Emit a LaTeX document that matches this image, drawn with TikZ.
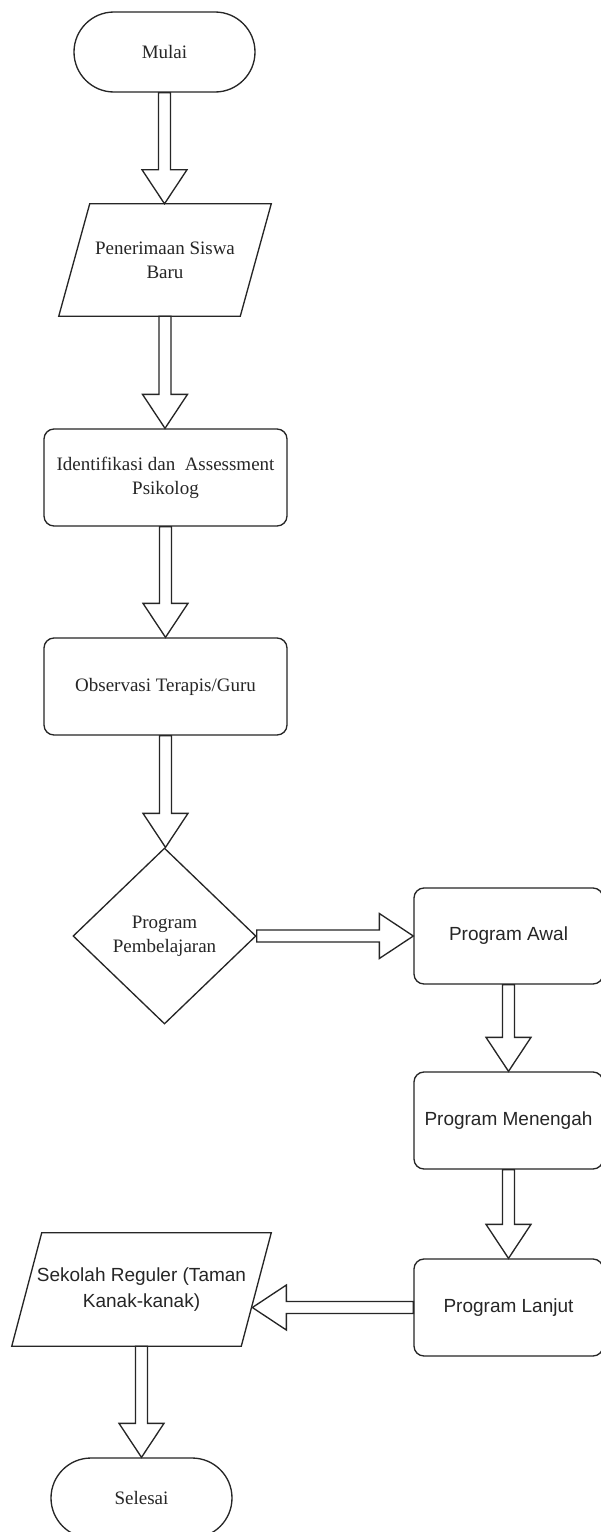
\documentclass[tikz,border=0pt]{standalone}
\usepackage{fontspec}
\setmainfont{Liberation Serif}
\setsansfont{Liberation Sans}
\usetikzlibrary{calc,shapes.geometric}
\tikzset{
  every node/.style={text=black!85, font=\fontsize{14.25}{18}\selectfont, align=center, inner sep=0pt},
  base/.style={draw=black!85, line width=1pt},
  term/.style={base, rectangle, rounded corners=30pt, minimum width=135.75pt, minimum height=60pt},
  proc/.style={base, rectangle, rounded corners=7.5pt, minimum width=182.25pt, minimum height=72.75pt},
  procR/.style={base, rectangle, rounded corners=7.5pt, minimum width=141.75pt, minimum height=72.75pt, font=\sffamily\fontsize{14.25}{19}\selectfont},
  dec/.style={base, diamond, minimum width=137.25pt, minimum height=132pt},
  io/.style={rectangle, minimum width=159pt, minimum height=84pt},
  ioS/.style={rectangle, minimum width=194.25pt, minimum height=84.75pt, font=\sffamily\fontsize{14.25}{19.5}\selectfont},
  fatarrow/.style={draw=black!85, line width=1pt, line join=miter, fill=white},
}
% vertical fat arrow pointing down: #1 start, #2 tip
\newcommand\fatdown[2]{%
  \draw[fatarrow] ($(#1)+(-6,0)$) -- ($(#2)+(-6,-34)$) -- ($(#2)+(-22.5,-34)$) -- (#2)
    -- ($(#2)+(22.5,-34)$) -- ($(#2)+(6,-34)$) -- ($(#1)+(6,0)$) -- cycle;}
% horizontal fat arrow pointing right
\newcommand\fatright[2]{%
  \draw[fatarrow] ($(#1)+(0,-6)$) -- ($(#2)+(-34,-6)$) -- ($(#2)+(-34,-22.5)$) -- (#2)
    -- ($(#2)+(-34,22.5)$) -- ($(#2)+(-34,6)$) -- ($(#1)+(0,6)$) -- cycle;}
% horizontal fat arrow pointing left
\newcommand\fatleft[2]{%
  \draw[fatarrow] ($(#1)+(0,-6)$) -- ($(#2)+(34,-6)$) -- ($(#2)+(34,-22.5)$) -- (#2)
    -- ($(#2)+(34,22.5)$) -- ($(#2)+(34,6)$) -- ($(#1)+(0,6)$) -- cycle;}
\begin{document}
\begin{tikzpicture}[x=0.75pt, y=-0.75pt]
  \fill[white] (0,0) rectangle (600,1532);
  \useasboundingbox (0,0) rectangle (600,1532);

  % nodes
  \node[term] (mulai) at (164.5,52) {Mulai};
  \node[io] (pen) at (165,260) {Penerimaan Siswa\\Baru};
  \draw[base] ($(pen.north west)+(31,0)$) -- (pen.north east) -- ($(pen.south east)+(-31,0)$) -- (pen.south west) -- cycle;
  \node[proc] (ident) at (165.5,477.5) {Identifikasi dan~~Assessment\\Psikolog};
  \node[proc] (obs) at (165.5,686.5) {Observasi Terapis/Guru};
  \node[dec] (dia) at (164.5,936) {Program\\Pembelajaran};
  \node[procR, minimum height=72pt] (awal) at (508.5,936) {Program Awal};
  \node[procR] (men) at (508.5,1120.5) {Program Menengah};
  \node[procR] (lan) at (508.5,1307.5) {Program Lanjut};
  \node[ioS] (sek) at (141.5,1289.5) {Sekolah Reguler (Taman\\Kanak-kanak)};
  \draw[base] ($(sek.north west)+(30,0)$) -- (sek.north east) -- ($(sek.south east)+(-30,0)$) -- (sek.south west) -- cycle;
  \coordinate (sekSE) at ($(sek.south east)+(-30,0)$);
  \coordinate (sekR) at ($(sek.north east)!0.63!(sekSE)$);
  \node[term] (selesai) at (141.5,1498) {Selesai};

  % connectors
  \fatdown{mulai.south}{mulai.south|-pen.north}
  \fatdown{pen.south}{pen.south|-ident.north}
  \fatdown{ident.south}{ident.south|-obs.north}
  \fatdown{obs.south}{obs.south|-dia.north}
  \fatright{dia.east}{awal.west|-dia.east}
  \fatdown{awal.south}{awal.south|-men.north}
  \fatdown{men.south}{men.south|-lan.north}
  \fatleft{lan.west}{sekR|-lan.west}
  \fatdown{sek.south}{sek.south|-selesai.north}
\end{tikzpicture}
\end{document}
